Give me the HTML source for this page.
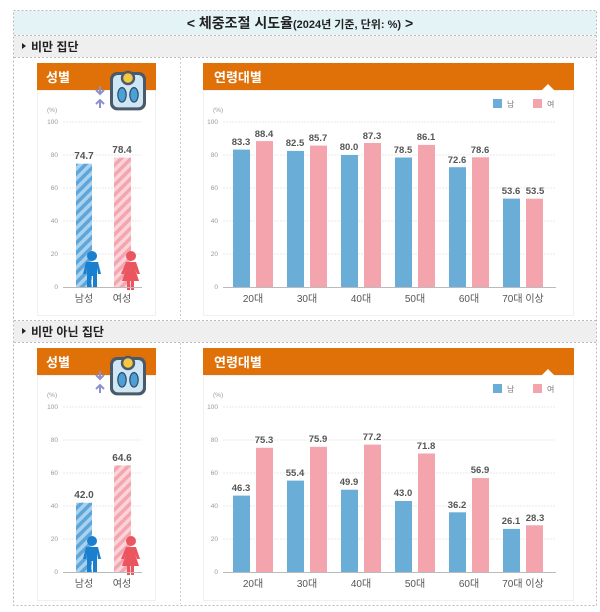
<!DOCTYPE html>
<html><head><meta charset="utf-8"><style>
body{margin:0;background:#fff;}
svg{display:block;font-family:"Liberation Sans","Noto Sans CJK KR",sans-serif;}
</style></head><body>
<svg width="600" height="612" viewBox="0 0 600 612" xmlns="http://www.w3.org/2000/svg">
<defs>
<pattern id="hb" width="7" height="7" patternUnits="userSpaceOnUse" patternTransform="rotate(45)">
<rect width="7" height="7" fill="#a9d2ee"/><rect width="3.5" height="7" fill="#5ea6da"/></pattern>
<pattern id="hp" width="7" height="7" patternUnits="userSpaceOnUse" patternTransform="rotate(45)">
<rect width="7" height="7" fill="#fbd3d8"/><rect width="3.5" height="7" fill="#f3a6b0"/></pattern>
<g id="scale">
<rect x="0" y="0" width="30" height="32" rx="6" fill="#4a5a6a"/>
<rect x="2.5" y="2.5" width="25" height="27" rx="4" fill="#cfe7f5"/>
<circle cx="15" cy="5" r="6" fill="#4a5a6a"/><circle cx="15" cy="5" r="4" fill="#f5c842"/>
<ellipse cx="10" cy="19" rx="3.5" ry="6" fill="#4d9fd8" stroke="#2d4a63" stroke-width="1"/>
<ellipse cx="20" cy="19" rx="3.5" ry="6" fill="#4d9fd8" stroke="#2d4a63" stroke-width="1"/>
</g>
<g id="arrows" fill="#8a90d0" stroke="#8a90d0">
<path d="M0 0 v7 M-4 4 L0 8 L4 4" fill="none" stroke-width="2"/>
<path d="M0 22 v-7 M-4 18 L0 14 L4 18" fill="none" stroke-width="2"/>
</g>
<g id="man"><circle cx="0" cy="0" r="5" fill="#1b7fcf"/><path d="M-6 6 h12 l3 12 h-3 l-1 -6 v20 h-4 v-12 h-2 v12 h-4 v-20 l-1 6 h-3z" fill="#1b7fcf"/></g>
<g id="woman"><circle cx="0" cy="0" r="5" fill="#ea5560"/><path d="M-5 6 h10 l4 12 h-3 l-2 -5 l4 12 h-5 v9 h-3 v-9 h-1 v9 h-3 v-9 h-5 l4 -12 l-2 5 h-3z" fill="#ea5560"/></g>
</defs>
<rect x="13.5" y="10.5" width="583" height="595" fill="#fff" stroke="#bbb" stroke-dasharray="2,2"/>
<rect x="14" y="11" width="582" height="24" fill="#e4f3f6"/>
<line x1="14" y1="35.5" x2="596" y2="35.5" stroke="#bbb" stroke-dasharray="2,2"/>
<text x="300" y="28" text-anchor="middle" font-size="14" font-weight="bold" fill="#222">&lt;  체중조절  시도율<tspan font-size="11">(2024년 기준, 단위: %)</tspan>  &gt;</text>

<g id="sec1">
<rect x="14" y="36" width="582" height="21" fill="#efefef"/>
<line x1="14" y1="57.5" x2="596" y2="57.5" stroke="#bbb" stroke-dasharray="2,2"/>
<path d="M22 43 l4 3 l-4 3z" fill="#222"/>
<text x="31" y="51" font-size="12" font-weight="bold" fill="#222">비만 집단</text>
<line x1="180.5" y1="58" x2="180.5" y2="319" stroke="#ccc" stroke-dasharray="2,2"/>
<rect x="37.5" y="90.5" width="118" height="225" fill="none" stroke="#f0f0f0"/>
<rect x="203.5" y="90.5" width="370" height="225" fill="none" stroke="#f0f0f0"/>
<rect x="37" y="63" width="119" height="27" fill="#e07008"/>
<text x="46" y="82" font-size="13" font-weight="bold" fill="#fff">성별</text>
<rect x="203" y="63" width="371" height="27" fill="#e07008"/>
<text x="214" y="82" font-size="13" font-weight="bold" fill="#fff">연령대별</text>
<path d="M541 91 l7 -7 l7 7z" fill="#fff"/>
<use href="#arrows" x="100" y="86"/>
<use href="#scale" transform="translate(110,72) scale(1.2)"/>
<g font-size="6.5" fill="#999">
<text x="47" y="112">(%)</text>
<text x="58" y="124" text-anchor="end">100</text><text x="58" y="157" text-anchor="end">80</text><text x="58" y="190" text-anchor="end">60</text><text x="58" y="223" text-anchor="end">40</text><text x="58" y="256" text-anchor="end">20</text><text x="58" y="289" text-anchor="end">0</text>
<text x="213" y="112">(%)</text>
<text x="218" y="124" text-anchor="end">100</text><text x="218" y="157" text-anchor="end">80</text><text x="218" y="190" text-anchor="end">60</text><text x="218" y="223" text-anchor="end">40</text><text x="218" y="256" text-anchor="end">20</text><text x="218" y="289" text-anchor="end">0</text>
</g>
<g stroke="#e8e8e8" stroke-width="1" stroke-dasharray="2,1">
<line x1="63" x2="142" y1="122" y2="122"/><line x1="63" x2="142" y1="155" y2="155"/><line x1="63" x2="142" y1="188" y2="188"/><line x1="63" x2="142" y1="221" y2="221"/><line x1="63" x2="142" y1="254" y2="254"/>
<line x1="223" x2="556" y1="122" y2="122"/><line x1="223" x2="556" y1="155" y2="155"/><line x1="223" x2="556" y1="188" y2="188"/><line x1="223" x2="556" y1="221" y2="221"/><line x1="223" x2="556" y1="254" y2="254"/>
</g>
<rect x="76" y="163.7" width="16" height="123.3" fill="url(#hb)"/>
<rect x="114" y="157.6" width="17" height="129.4" fill="url(#hp)"/>
<use href="#man" x="92" y="256"/><use href="#woman" x="131" y="256"/>
<line x1="63" x2="142" y1="287.5" y2="287.5" stroke="#bbb"/>
<line x1="223" x2="556" y1="287.5" y2="287.5" stroke="#bbb"/>
<g font-size="10" font-weight="bold" fill="#555" text-anchor="middle">
<text x="84" y="159">74.7</text><text x="122" y="153">78.4</text>
</g>
<g font-size="10" fill="#555" text-anchor="middle"><text x="84" y="302">남성</text><text x="122" y="302">여성</text></g>
<rect x="493" y="99" width="9" height="9" fill="#6aaed8"/><text x="507" y="107" font-size="8" fill="#777">남</text>
<rect x="533" y="99" width="9" height="9" fill="#f3a4ad"/><text x="547" y="107" font-size="8" fill="#777">여</text>
<g>
<rect x="233" y="149.6" width="17" height="137.4" fill="#6aaed8"/><rect x="256" y="141.1" width="17" height="145.9" fill="#f3a4ad"/>
<rect x="287" y="150.9" width="17" height="136.1" fill="#6aaed8"/><rect x="310" y="145.6" width="17" height="141.4" fill="#f3a4ad"/>
<rect x="341" y="155" width="17" height="132" fill="#6aaed8"/><rect x="364" y="143" width="17" height="144" fill="#f3a4ad"/>
<rect x="395" y="157.5" width="17" height="129.5" fill="#6aaed8"/><rect x="418" y="144.9" width="17" height="142.1" fill="#f3a4ad"/>
<rect x="449" y="167.2" width="17" height="119.8" fill="#6aaed8"/><rect x="472" y="157.3" width="17" height="129.7" fill="#f3a4ad"/>
<rect x="503" y="198.6" width="17" height="88.4" fill="#6aaed8"/><rect x="526" y="198.7" width="17" height="88.3" fill="#f3a4ad"/>
</g>
<g font-size="9.5" font-weight="bold" fill="#555" text-anchor="middle">
<text x="241" y="145">83.3</text><text x="264" y="137">88.4</text>
<text x="295" y="146">82.5</text><text x="318" y="141">85.7</text>
<text x="349" y="150">80.0</text><text x="372" y="139">87.3</text>
<text x="403" y="153">78.5</text><text x="426" y="140">86.1</text>
<text x="457" y="163">72.6</text><text x="480" y="153">78.6</text>
<text x="511" y="194">53.6</text><text x="535" y="194">53.5</text>
</g>
<g font-size="10" fill="#555" text-anchor="middle">
<text x="253" y="302">20대</text><text x="307" y="302">30대</text><text x="361" y="302">40대</text><text x="415" y="302">50대</text><text x="469" y="302">60대</text><text x="523" y="302">70대 이상</text>
</g>
</g>

<g transform="translate(0,285)">
<rect x="14" y="36" width="582" height="21" fill="#efefef"/>
<line x1="14" y1="35.5" x2="596" y2="35.5" stroke="#bbb" stroke-dasharray="2,2"/>
<line x1="14" y1="57.5" x2="596" y2="57.5" stroke="#bbb" stroke-dasharray="2,2"/>
<path d="M22 43 l4 3 l-4 3z" fill="#222"/>
<text x="31" y="51" font-size="12" font-weight="bold" fill="#222">비만 아닌 집단</text>
<line x1="180.5" y1="58" x2="180.5" y2="319" stroke="#ccc" stroke-dasharray="2,2"/>
<rect x="37.5" y="90.5" width="118" height="225" fill="none" stroke="#f0f0f0"/>
<rect x="203.5" y="90.5" width="370" height="225" fill="none" stroke="#f0f0f0"/>
<rect x="37" y="63" width="119" height="27" fill="#e07008"/>
<text x="46" y="82" font-size="13" font-weight="bold" fill="#fff">성별</text>
<rect x="203" y="63" width="371" height="27" fill="#e07008"/>
<text x="214" y="82" font-size="13" font-weight="bold" fill="#fff">연령대별</text>
<path d="M541 91 l7 -7 l7 7z" fill="#fff"/>
<use href="#arrows" x="100" y="86"/>
<use href="#scale" transform="translate(110,72) scale(1.2)"/>
<g font-size="6.5" fill="#999">
<text x="47" y="112">(%)</text>
<text x="58" y="124" text-anchor="end">100</text><text x="58" y="157" text-anchor="end">80</text><text x="58" y="190" text-anchor="end">60</text><text x="58" y="223" text-anchor="end">40</text><text x="58" y="256" text-anchor="end">20</text><text x="58" y="289" text-anchor="end">0</text>
<text x="213" y="112">(%)</text>
<text x="218" y="124" text-anchor="end">100</text><text x="218" y="157" text-anchor="end">80</text><text x="218" y="190" text-anchor="end">60</text><text x="218" y="223" text-anchor="end">40</text><text x="218" y="256" text-anchor="end">20</text><text x="218" y="289" text-anchor="end">0</text>
</g>
<g stroke="#e8e8e8" stroke-width="1" stroke-dasharray="2,1">
<line x1="63" x2="142" y1="122" y2="122"/><line x1="63" x2="142" y1="155" y2="155"/><line x1="63" x2="142" y1="188" y2="188"/><line x1="63" x2="142" y1="221" y2="221"/><line x1="63" x2="142" y1="254" y2="254"/>
<line x1="223" x2="556" y1="122" y2="122"/><line x1="223" x2="556" y1="155" y2="155"/><line x1="223" x2="556" y1="188" y2="188"/><line x1="223" x2="556" y1="221" y2="221"/><line x1="223" x2="556" y1="254" y2="254"/>
</g>
<rect x="76" y="217.7" width="16" height="69.3" fill="url(#hb)"/>
<rect x="114" y="180.4" width="17" height="106.6" fill="url(#hp)"/>
<use href="#man" x="92" y="256"/><use href="#woman" x="131" y="256"/>
<line x1="63" x2="142" y1="287.5" y2="287.5" stroke="#bbb"/>
<line x1="223" x2="556" y1="287.5" y2="287.5" stroke="#bbb"/>
<g font-size="10" font-weight="bold" fill="#555" text-anchor="middle">
<text x="84" y="213">42.0</text><text x="122" y="176">64.6</text>
</g>
<g font-size="10" fill="#555" text-anchor="middle"><text x="84" y="302">남성</text><text x="122" y="302">여성</text></g>
<rect x="493" y="99" width="9" height="9" fill="#6aaed8"/><text x="507" y="107" font-size="8" fill="#777">남</text>
<rect x="533" y="99" width="9" height="9" fill="#f3a4ad"/><text x="547" y="107" font-size="8" fill="#777">여</text>
<g>
<rect x="233" y="210.6" width="17" height="76.4" fill="#6aaed8"/><rect x="256" y="162.8" width="17" height="124.2" fill="#f3a4ad"/>
<rect x="287" y="195.6" width="17" height="91.4" fill="#6aaed8"/><rect x="310" y="161.8" width="17" height="125.2" fill="#f3a4ad"/>
<rect x="341" y="204.7" width="17" height="82.3" fill="#6aaed8"/><rect x="364" y="159.6" width="17" height="127.4" fill="#f3a4ad"/>
<rect x="395" y="216" width="17" height="71" fill="#6aaed8"/><rect x="418" y="168.5" width="17" height="118.5" fill="#f3a4ad"/>
<rect x="449" y="227.3" width="17" height="59.7" fill="#6aaed8"/><rect x="472" y="193.1" width="17" height="93.9" fill="#f3a4ad"/>
<rect x="503" y="243.9" width="17" height="43.1" fill="#6aaed8"/><rect x="526" y="240.3" width="17" height="46.7" fill="#f3a4ad"/>
</g>
<g font-size="9.5" font-weight="bold" fill="#555" text-anchor="middle">
<text x="241" y="206">46.3</text><text x="264" y="158">75.3</text>
<text x="295" y="191">55.4</text><text x="318" y="157">75.9</text>
<text x="349" y="200">49.9</text><text x="372" y="155">77.2</text>
<text x="403" y="211">43.0</text><text x="426" y="164">71.8</text>
<text x="457" y="223">36.2</text><text x="480" y="188">56.9</text>
<text x="511" y="239">26.1</text><text x="535" y="236">28.3</text>
</g>
<g font-size="10" fill="#555" text-anchor="middle">
<text x="253" y="302">20대</text><text x="307" y="302">30대</text><text x="361" y="302">40대</text><text x="415" y="302">50대</text><text x="469" y="302">60대</text><text x="523" y="302">70대 이상</text>
</g>
</g>
</svg>
</body></html>
